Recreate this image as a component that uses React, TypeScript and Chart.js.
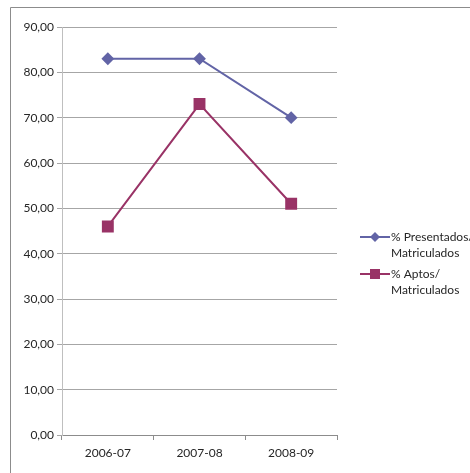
import React, { useEffect, useRef } from "react";
import { Chart, registerables } from "chart.js";

Chart.register(...registerables);

const categories = ["2006-07", "2007-08", "2008-09"];
const presentados = [83, 83, 70];
const aptos = [46, 73, 51];
const seriesLabels = [
  ["% Presentados/", "Matriculados"],
  ["% Aptos/", "Matriculados"],
];
const colors = ["#6264A6", "#993366"];
const FONT = "Lato, 'Open Sans', sans-serif";

const framePlugin = {
  id: "frame",
  beforeDraw(chart: any) {
    const ctx = chart.ctx;
    ctx.save();
    ctx.strokeStyle = "#8c8c8c";
    ctx.lineWidth = 1;
    ctx.beginPath();
    ctx.moveTo(10.5, chart.height);
    ctx.lineTo(10.5, 7.5);
    ctx.lineTo(chart.width, 7.5);
    ctx.stroke();
    ctx.restore();
  },
};

const legendPlugin = {
  id: "customLegend",
  afterDraw(chart: any) {
    const ctx = chart.ctx;
    const ys = [237, 274];
    ctx.save();
    chart.data.datasets.forEach((ds: any, i: number) => {
      const y = ys[i];
      ctx.strokeStyle = ds.borderColor;
      ctx.lineWidth = 2;
      ctx.beginPath();
      ctx.moveTo(360, y);
      ctx.lineTo(390, y);
      ctx.stroke();
      ctx.fillStyle = ds.backgroundColor;
      ctx.beginPath();
      if (i === 0) {
        ctx.moveTo(375, y - 5);
        ctx.lineTo(380, y);
        ctx.lineTo(375, y + 5);
        ctx.lineTo(370, y);
        ctx.closePath();
      } else {
        ctx.rect(370, y - 5, 10, 10);
      }
      ctx.fill();
      ctx.fillStyle = "#262626";
      ctx.font = "12px " + FONT;
      ctx.textBaseline = "middle";
      ctx.textAlign = "left";
      const lines = seriesLabels[i];
      lines.forEach((t: string, k: number) => {
        ctx.fillText(t, 391, y + k * 16);
      });
    });
    ctx.restore();
  },
};

export default function App() {
  const ref = useRef<HTMLCanvasElement>(null);
  useEffect(() => {
    if (!ref.current) return;
    const chart = new Chart(ref.current, {
      type: "line",
      data: {
        labels: categories,
        datasets: [
          {
            label: "% Presentados/ Matriculados",
            data: presentados,
            borderColor: colors[0],
            backgroundColor: colors[0],
            borderWidth: 2,
            pointStyle: "rectRot",
            pointRadius: 5,
            pointHoverRadius: 5,
            tension: 0,
          },
          {
            label: "% Aptos/ Matriculados",
            data: aptos,
            borderColor: colors[1],
            backgroundColor: colors[1],
            borderWidth: 2,
            pointStyle: "rect",
            pointRadius: 7,
            pointHoverRadius: 7,
            tension: 0,
          },
        ],
      },
      options: {
        animation: false,
        responsive: false,
        maintainAspectRatio: false,
        layout: { padding: { left: 10, right: 133, top: 27, bottom: 8 } },
        plugins: { legend: { display: false }, tooltip: { enabled: false } },
        scales: {
          x: {
            offset: true,
            grid: {
              offset: true,
              drawOnChartArea: false,
              drawTicks: true,
              tickLength: 5,
              color: "#8c8c8c",
            },
            border: { color: "#8c8c8c", width: 1 },
            ticks: {
              color: "#262626",
              font: { family: FONT, size: 12 },
              padding: 6,
              maxRotation: 0,
            },
            afterFit(scale: any) {
              scale.height = 30;
            },
          },
          y: {
            min: 0,
            max: 90,
            ticks: {
              stepSize: 10,
              color: "#262626",
              font: { family: FONT, size: 12 },
              padding: 3,
              callback: (v: any) => Number(v).toFixed(2).replace(".", ","),
            },
            grid: {
              color: "#a6a6a6",
              tickLength: 5,
              drawTicks: true,
            },
            border: { color: "#bfbfbf", width: 1 },
            afterFit(scale: any) {
              scale.width = 52;
            },
          },
        },
      },
      plugins: [framePlugin, legendPlugin],
    });
    return () => chart.destroy();
  }, []);
  return (
    <div style={{ position: "absolute", left: 0, top: 0, width: 470, height: 473 }}>
      <canvas ref={ref} width={470} height={473} style={{ width: 470, height: 473 }} />
    </div>
  );
}
